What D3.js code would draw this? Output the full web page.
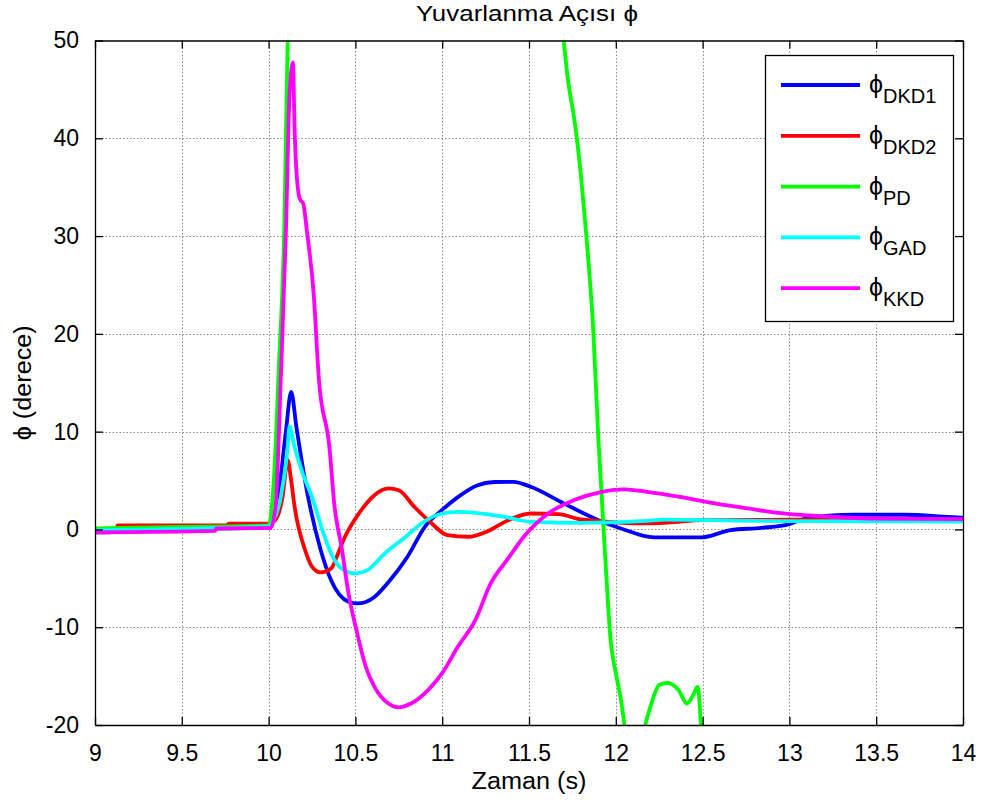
<!DOCTYPE html>
<html>
<head>
<meta charset="utf-8">
<script src="https://cdn.jsdelivr.net/npm/d3@7"></script>
<style>
  html, body { margin: 0; padding: 0; background: #fff; }
  svg { display: block; font-family: "Liberation Sans", Arial, Helvetica, sans-serif; }
</style>
</head>
<body>
<svg id="chart" width="981" height="803"></svg>
<script>
// Roll angle responses [time (s), phi (deg)] for each controller
const dkd1 = [
  [9.0,-0.3],[9.09,-0.3],[9.1,-0.1],[10.0,0.2],[10.01,0.3],[10.06,4.0],[10.10,10.1],[10.13,14.07],
  [10.16,10.5],[10.22,4.0],[10.30,-2.1],[10.36,-5.2],[10.46,-7.4],[10.51,-7.57],[10.61,-6.9],
  [10.69,-5.4],[10.80,-2.8],[10.90,0.27],[11.0,2.0],[11.09,3.3],[11.20,4.5],[11.30,4.85],
  [11.41,4.87],[11.51,4.36],[11.70,2.66],[11.90,0.95],[12.03,0.1],[12.22,-0.82],[12.49,-0.82],
  [12.66,-0.07],[12.84,0.16],[13.0,0.54],[13.08,1.05],[13.37,1.5],[13.66,1.5],[13.91,1.29],[14.0,1.2]
];
const dkd2 = [
  [9.0,0.0],[9.12,0.0],[9.13,0.4],[9.76,0.4],[9.77,0.6],[10.0,0.6],[10.04,1.0],[10.08,3.3],[10.11,7.08],
  [10.13,5.0],[10.15,2.3],[10.21,-2.1],[10.25,-3.8],[10.30,-4.4],[10.36,-4.0],[10.40,-2.45],
  [10.44,-0.75],[10.52,1.63],[10.61,3.5],[10.69,4.19],[10.75,4.0],[10.84,2.3],[10.94,0.6],
  [11.03,-0.58],[11.15,-0.75],[11.26,-0.2],[11.38,0.95],[11.51,1.63],[11.67,1.56],[11.80,1.02],
  [11.90,0.88],[12.13,0.61],[12.30,0.7],[12.50,0.95],[13.0,1.0],[14.0,0.95]
];
const pd = [
  [9.0,0.1],[9.5,0.25],[10.0,0.4],[10.03,5.0],[10.06,17.0],[10.09,30.6],[10.11,50.0],[10.15,65.0],
  [10.5,90.0],[11.2,80.0],[11.6,58.0],[11.70,49.9],[11.72,46.6],[11.77,40.8],[11.80,36.05],
  [11.83,30.1],[11.87,20.4],[11.90,9.1],[11.94,-3.1],[11.97,-11.3],[12.0,-14.7],[12.03,-17.45],
  [12.05,-20.0],[12.10,-24.0],[12.14,-23.0],[12.17,-20.0],[12.20,-18.1],[12.25,-15.9],[12.30,-15.7],
  [12.36,-16.4],[12.41,-17.8],[12.45,-16.8],[12.47,-16.1],[12.48,-17.1],[12.49,-20.0],[12.52,-30.0]
];
const gad = [
  [9.0,-0.1],[10.0,0.3],[10.03,1.0],[10.07,3.3],[10.11,8.4],[10.12,10.5],[10.15,8.4],[10.19,6.06],
  [10.25,3.3],[10.31,-0.07],[10.36,-2.45],[10.42,-4.0],[10.50,-4.5],[10.57,-4.16],[10.67,-2.45],
  [10.79,-0.75],[10.88,0.61],[11.0,1.63],[11.09,1.8],[11.19,1.7],[11.28,1.5],[11.36,1.29],
  [11.51,0.78],[11.80,0.68],[12.18,0.88],[12.27,1.0],[12.95,0.85],[14.0,0.8]
];
const kkd = [
  [9.0,-0.3],[9.69,-0.15],[9.70,0.1],[10.0,0.15],[10.01,0.1],[10.04,2.3],[10.07,15.3],[10.10,30.6],
  [10.12,44.2],[10.14,47.75],[10.15,40.8],[10.16,36.7],[10.18,33.8],[10.20,33.3],[10.22,30.6],
  [10.26,24.0],[10.29,15.3],[10.35,8.45],[10.38,2.3],[10.42,-1.78],[10.46,-6.5],[10.51,-10.6],
  [10.56,-14.05],[10.61,-16.1],[10.69,-17.8],[10.75,-18.2],[10.82,-17.8],[10.92,-16.4],[11.0,-14.7],
  [11.09,-12.0],[11.19,-9.3],[11.28,-5.5],[11.38,-2.97],[11.47,-0.75],[11.61,1.63],[11.76,3.0],
  [11.92,3.85],[12.05,4.1],[12.18,3.85],[12.37,3.33],[12.57,2.66],[12.76,2.15],[12.91,1.74],
  [13.02,1.53],[13.18,1.36],[13.47,1.12],[14.0,1.05]
];

const seriesNames = ["DKD1", "DKD2", "PD", "GAD", "KKD"];
const seriesColors = ["#0000ff", "#ff0000", "#00ff00", "#00ffff", "#ff00ff"];
const seriesData = [dkd1, dkd2, pd, gad, kkd];

const xTicks = [9, 9.5, 10, 10.5, 11, 11.5, 12, 12.5, 13, 13.5, 14];
const yTicks = [-20, -10, 0, 10, 20, 30, 40, 50];

const titleText = "Yuvarlanma Açısı ϕ";
const xLabelText = "Zaman (s)";
const yLabelText = "ϕ (derece)";

// Layout
const plot = { left: 95, right: 963, top: 40.5, bottom: 725 };
const svg = d3.select("#chart");

const x = d3.scaleLinear().domain([9, 14]).range([plot.left, plot.right]);
const y = d3.scaleLinear().domain([-20, 50]).range([plot.bottom, plot.top]);

// Dotted grid
const grid = svg.append("g").attr("stroke", "#8c8c8c").attr("stroke-width", 1)
  .attr("stroke-dasharray", "1.5,2");
grid.selectAll("line.gx").data(xTicks.slice(1, -1)).join("line")
  .attr("x1", d => Math.round(x(d)) + 0.5).attr("x2", d => Math.round(x(d)) + 0.5)
  .attr("y1", plot.top).attr("y2", plot.bottom);
grid.selectAll("line.gy").data(yTicks.slice(1, -1)).join("line")
  .attr("y1", d => Math.round(y(d)) + 0.5).attr("y2", d => Math.round(y(d)) + 0.5)
  .attr("x1", plot.left).attr("x2", plot.right);

// Curves clipped to the axes box
svg.append("clipPath").attr("id", "plotClip").append("rect")
  .attr("x", plot.left).attr("y", plot.top)
  .attr("width", plot.right - plot.left).attr("height", plot.bottom - plot.top);

const line = d3.line().x(d => x(d[0])).y(d => y(d[1])).curve(d3.curveMonotoneX);
svg.append("g").attr("clip-path", "url(#plotClip)")
  .selectAll("path").data(seriesData).join("path")
  .attr("d", line)
  .attr("fill", "none")
  .attr("stroke", (d, i) => seriesColors[i])
  .attr("stroke-width", 3.8)
  .attr("stroke-linejoin", "round")
  .attr("stroke-linecap", "butt");

// Axes with inward ticks on all four sides
const tickLen = 8;
const fmt = d => String(d);
const axB = svg.append("g").attr("transform", `translate(0,${plot.bottom})`)
  .call(d3.axisBottom(x).tickValues(xTicks).tickSizeInner(-tickLen).tickSizeOuter(0).tickPadding(tickLen + 12).tickFormat(fmt));
const axT = svg.append("g").attr("transform", `translate(0,${plot.top})`)
  .call(d3.axisTop(x).tickValues(xTicks).tickSizeInner(-tickLen).tickSizeOuter(0).tickFormat(""));
const axL = svg.append("g").attr("transform", `translate(${plot.left},0)`)
  .call(d3.axisLeft(y).tickValues(yTicks).tickSizeInner(-tickLen).tickSizeOuter(0).tickPadding(tickLen + 8).tickFormat(fmt));
const axR = svg.append("g").attr("transform", `translate(${plot.right},0)`)
  .call(d3.axisRight(y).tickValues(yTicks).tickSizeInner(-tickLen).tickSizeOuter(0).tickFormat(""));

[axB, axT, axL, axR].forEach(a => {
  a.select(".domain").attr("stroke", "#000").attr("stroke-width", 1.3);
  a.selectAll(".tick line").attr("stroke", "#000").attr("stroke-width", 1.3);
  a.selectAll(".tick text").attr("fill", "#000").attr("font-size", 23)
    .attr("font-family", "Liberation Sans, Arial, sans-serif");
});

// Titles
svg.append("text").attr("x", 527).attr("y", 21)
  .attr("text-anchor", "middle").attr("font-size", 22)
  .attr("textLength", 222).attr("lengthAdjust", "spacingAndGlyphs").text(titleText);
svg.append("text").attr("x", (plot.left + plot.right) / 2).attr("y", 789)
  .attr("text-anchor", "middle").attr("font-size", 23)
  .attr("textLength", 115).attr("lengthAdjust", "spacingAndGlyphs").text(xLabelText);
svg.append("text").attr("transform", `translate(31,${(plot.top + plot.bottom) / 2}) rotate(-90)`)
  .attr("text-anchor", "middle").attr("font-size", 23)
  .attr("textLength", 115).attr("lengthAdjust", "spacingAndGlyphs").text(yLabelText);

// Legend
const lg = { x: 765, y: 55, w: 188, h: 266, rowY0: 85, rowStep: 50.8 };
const legend = svg.append("g");
legend.append("rect").attr("x", lg.x + 0.5).attr("y", lg.y + 0.5)
  .attr("width", lg.w).attr("height", lg.h)
  .attr("fill", "#fff").attr("stroke", "#000").attr("stroke-width", 1.3);
const rows = legend.selectAll("g.row").data(seriesNames).join("g")
  .attr("transform", (d, i) => `translate(0,${lg.rowY0 + i * lg.rowStep})`);
rows.append("line").attr("x1", 781).attr("x2", 860).attr("y1", 0).attr("y2", 0)
  .attr("stroke", (d, i) => seriesColors[i]).attr("stroke-width", 3.8);
const lt = rows.append("text").attr("x", 869).attr("y", 8).attr("font-size", 25);
lt.append("tspan").text("ϕ");
lt.append("tspan").attr("dy", 10).attr("font-size", 20).text(d => d);
</script>
</body>
</html>
